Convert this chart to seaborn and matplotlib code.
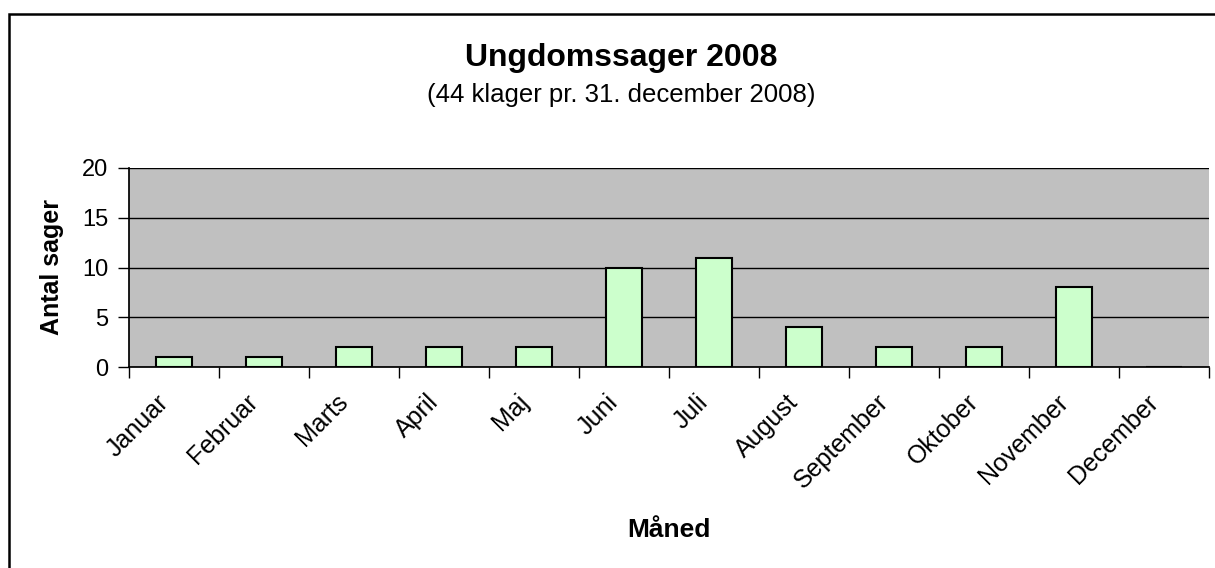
import matplotlib
matplotlib.use("Agg")
import matplotlib.pyplot as plt
import matplotlib.transforms as mtransforms
import seaborn as sns
import pandas as pd
from matplotlib.patches import Rectangle

months = ['Januar', 'Februar', 'Marts', 'April', 'Maj', 'Juni', 'Juli',
          'August', 'September', 'Oktober', 'November', 'December']
cases = [1, 1, 2, 2, 2, 10, 11, 4, 2, 2, 8, 0]
y_ticks = [0, 5, 10, 15, 20]

df = pd.DataFrame({'Måned': months, 'Antal sager': cases})

sns.set_theme(style='white')
plt.rcParams['font.family'] = ['Liberation Sans', 'DejaVu Sans']
plt.rcParams['text.color'] = 'black'
plt.rcParams['axes.labelcolor'] = 'black'
plt.rcParams['xtick.color'] = 'black'
plt.rcParams['ytick.color'] = 'black'

W, H = 1215, 568
fig = plt.figure(figsize=(W / 100, H / 100), dpi=100)
ax = fig.add_axes([129 / W, 1 - 367 / H, 1080 / W, 199 / H])

sns.barplot(data=df, x='Måned', y='Antal sager', ax=ax, color='#ccffcc',
            edgecolor='black', linewidth=1.5, width=0.4, saturation=1)

ax.set_facecolor('#c0c0c0')
ax.set_ylim(0, 20)
ax.set_xlim(-0.5, len(months) - 0.5)
ax.set_yticks(y_ticks)
ax.yaxis.grid(True, color='black', linewidth=1)
ax.set_axisbelow(True)
for side in ['top', 'right']:
    ax.spines[side].set_visible(False)
ax.spines['left'].set_color('black')
ax.spines['bottom'].set_color('black')

# ticks between categories, as in the original
ax.set_xticks([i - 0.5 for i in range(len(months) + 1)], minor=True)
ax.tick_params(axis='x', which='minor', length=8, width=1, color='black', bottom=True)
ax.tick_params(axis='x', which='major', length=0, pad=16.5)
ax.tick_params(axis='y', length=8, width=1, color='black', left=True, labelsize=17, pad=7)
ax.set_xticks(range(len(months)))
ax.set_xticklabels(months, rotation=45, ha='right', va='top',
                   rotation_mode='anchor', fontsize=18)
shift = mtransforms.ScaledTranslation(-18 / 100, 0, fig.dpi_scale_trans)
for lbl in ax.get_xticklabels():
    lbl.set_transform(lbl.get_transform() + shift)

ax.set_xlabel('')
ax.set_ylabel('')

fig.text(52 / W, 1 - 267 / H, 'Antal sager', rotation=90, ha='center', va='center',
         fontsize=18, fontweight='bold')
fig.text(621 / W, 1 - 58 / H, 'Ungdomssager 2008', ha='center', va='center',
         fontsize=23, fontweight='bold')
fig.text(621 / W, 1 - 95 / H, '(44 klager pr. 31. december 2008)', ha='center',
         va='center', fontsize=18.5)
fig.text(669 / W, 1 - 530 / H, 'Måned', ha='center', va='center',
         fontsize=19, fontweight='bold')

# chart frame (only left and top edges are inside the picture)
fig.add_artist(Rectangle((9 / W, -0.05), 1.2, 1 - 14 / H + 0.05,
                         transform=fig.transFigure, fill=False,
                         edgecolor='black', linewidth=1.8))

fig.savefig('out.png', dpi=100, facecolor='white')
